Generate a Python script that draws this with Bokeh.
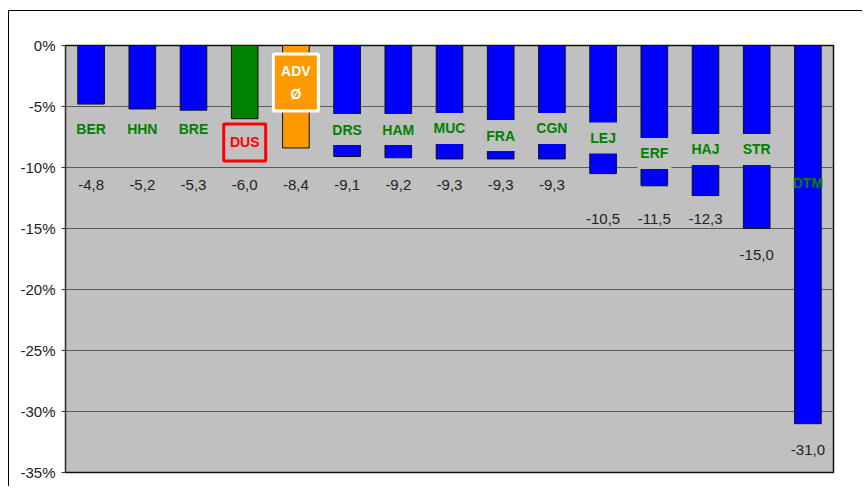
from bokeh.plotting import figure
from bokeh.models import Range1d, FixedTicker, PrintfTickFormatter, ColumnDataSource, FactorRange
from bokeh.core.properties import value
from bokeh.embed import file_html
from bokeh.resources import INLINE

# ---- data ----
categories = ["BER", "HHN", "BRE", "DUS", "ADV Ø", "DRS", "HAM", "MUC",
              "FRA", "CGN", "LEJ", "ERF", "HAJ", "STR", "DTM"]
changes = [-4.8, -5.2, -5.3, -6.0, -8.4, -9.1, -9.2, -9.3,
           -9.3, -9.3, -10.5, -11.5, -12.3, -15.0, -31.0]
y_ticks = [0, -5, -10, -15, -20, -25, -30, -35]

# ---- layout of labels (data units) ----
name_label_y = [-6.84, -6.84, -6.84, -7.95, -3.03, -6.89, -6.89, -6.8,
                -7.38, -6.8, -7.58, -8.85, -8.52, -8.52, -11.31]

FONT = value("Liberation Sans")
BLUE, GREEN, ORANGE, GREY = "#0000FF", "#008000", "#FF9900", "#C0C0C0"

bar_colors = [GREEN if c == "DUS" else ORANGE if c == "ADV Ø" else BLUE for c in categories]


def value_label_y(v):
    if v > -10:
        return -11.45
    if v > -13:
        return -14.2
    return v - 2.15


p = figure(x_range=FactorRange(*categories, range_padding=0),
           y_range=Range1d(-35, 0),
           width=854, height=476, output_backend="svg", toolbar_location=None,
           min_border_left=56, min_border_top=34, min_border_right=30, min_border_bottom=15)
p.styles = {"border-left": "1px solid #000", "border-top": "1px solid #000",
            "margin-left": "8px", "margin-top": "10px"}

p.background_fill_color = GREY
p.border_fill_color = "white"
p.outline_line_color = "#111111"
p.outline_line_width = 1.5

p.xaxis.visible = False
p.xgrid.grid_line_color = None
p.ygrid.grid_line_color = "#5a5a5a"
p.ygrid.grid_line_width = 1
p.ygrid.ticker = FixedTicker(ticks=y_ticks)

yax = p.yaxis[0]
yax.ticker = FixedTicker(ticks=y_ticks)
yax.formatter = PrintfTickFormatter(format="%d%%")
yax.major_label_text_font = "Liberation Sans"
yax.major_label_text_font_size = "15px"
yax.major_label_text_color = "#222222"
yax.major_tick_in = 0
yax.major_tick_out = 4
yax.minor_tick_in = 0
yax.minor_tick_out = 0
yax.major_label_standoff = 6
yax.axis_line_color = "#333333"
yax.major_tick_line_color = "#333333"

src = ColumnDataSource(dict(cat=categories, val=changes, color=bar_colors))
p.vbar(x="cat", top=0, bottom="val", width=0.52, source=src,
       fill_color="color", line_color="#111111", line_width=1)

# grey label boxes (normal labels)
box_idx = [i for i, c in enumerate(categories) if c not in ("DUS", "ADV Ø", "DTM")]
p.rect(x=[categories[i] for i in box_idx], y=[name_label_y[i] for i in box_idx],
       width=34, height=31, width_units="screen", height_units="screen",
       fill_color=GREY, line_color=None)

# DUS red-bordered box
i_dus = categories.index("DUS")
p.rect(x=[categories[i_dus]], y=[name_label_y[i_dus]], width=42, height=37,
       width_units="screen", height_units="screen",
       fill_color=GREY, line_color="#FF0000", line_width=3)

# ADV white-bordered orange box
i_adv = categories.index("ADV Ø")
p.rect(x=[categories[i_adv]], y=[name_label_y[i_adv]], width=45, height=57,
       width_units="screen", height_units="screen",
       fill_color=ORANGE, line_color="white", line_width=3)

name_colors = ["#FF0000" if c == "DUS" else "white" if c == "ADV Ø" else GREEN for c in categories]
name_src = ColumnDataSource(dict(cat=categories, y=name_label_y,
                                 txt=[c.replace(" ", "\n") for c in categories],
                                 color=name_colors))
p.text(x="cat", y="y", text="txt", source=name_src, text_color="color",
       text_font=FONT, text_font_size="14px", text_font_style="bold",
       text_align="center", text_baseline="middle", text_line_height=1.45)

val_src = ColumnDataSource(dict(cat=categories, y=[value_label_y(v) for v in changes],
                                txt=[f"{v:.1f}".replace(".", ",") for v in changes]))
p.text(x="cat", y="y", text="txt", source=val_src, text_color="#222222",
       text_font=FONT, text_font_size="15px",
       text_align="center", text_baseline="middle")

open("out.html", "w").write(file_html(p, INLINE))
